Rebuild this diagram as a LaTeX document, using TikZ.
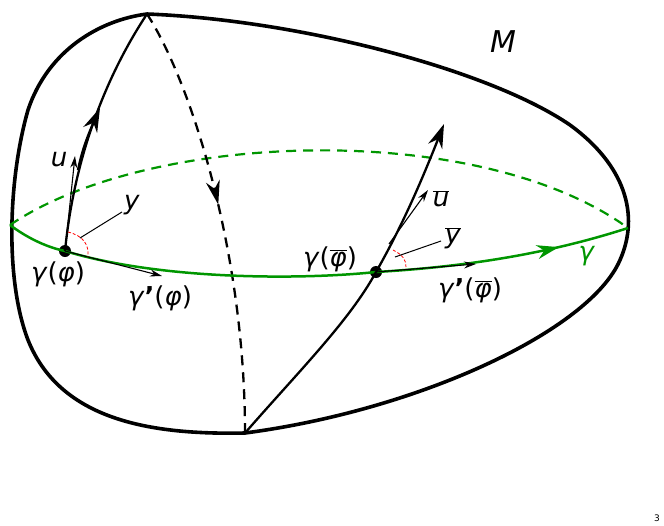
\documentclass[tikz,border=0pt]{standalone}
\usepackage{fontspec}
\setmainfont{DejaVu Sans}
\usetikzlibrary{arrows.meta,decorations.markings}
\definecolor{gr}{RGB}{0,150,0}
\newcommand{\gm}{\textit{γ}}
\newcommand{\ph}{\textit{φ}}
\newcommand{\obar}[1]{$\overline{\hbox{#1}}$}
\begin{document}
\begin{tikzpicture}[x=1pt,y=-1pt,
  lab/.style={font=\fontsize{26}{30}\selectfont, inner sep=1pt},
  big/.style={-{Stealth[length=24pt,width=15pt]}},
  thinv/.style={-{Stealth[length=12pt,width=7pt]}, line width=1.1pt},
  midarrow/.style={postaction={decorate},decoration={markings,mark=at position #1 with {\arrow{Stealth[length=24pt,width=14pt]}}}},
  garrow/.style={postaction={decorate},decoration={markings,mark=at position #1 with {\arrow{Stealth[length=22pt,width=14pt]}}}}]
\useasboundingbox (0,0) rectangle (664,525);
% outline
\draw[line width=3.6pt,line join=round] (147,14) .. controls (300,20) and (490,70) .. (570,125) .. controls (625,165) and (640,215) .. (620,260) .. controls (590,330) and (420,410) .. (245,433) .. controls (150,435) and (60,420) .. (28,340) .. controls (5,280) and (8,180) .. (28,110) .. controls (48,50) and (100,20) .. (147,14) -- cycle;
\coordinate (T) at (147,14);
\coordinate (B) at (245,433);
\coordinate (L) at (10,225);
\coordinate (R) at (628,228);
\node[circle,fill,inner sep=0pt,minimum size=12pt] (P) at (65,251) {};
\node[circle,fill,inner sep=0pt,minimum size=12pt] (Q) at (376,272) {};
% green back dashed
\draw[gr,line width=2.2pt,dash pattern=on 10pt off 7pt] (L) .. controls (150,130) and (480,120) .. (R);
% meridian back dashed
\draw[line width=2.3pt,dash pattern=on 10pt off 7pt,midarrow=0.47] (T) .. controls (190,80) and (245,250) .. (B);
% equator
\draw[gr,line width=2.5pt] (L) .. controls (30,240) and (50,248) .. (P.center) .. controls (160,280) and (300,280) .. (Q.center);
\draw[gr,line width=2.5pt,garrow=0.72] (Q.center) .. controls (480,266) and (560,250) .. (R);
% meridian 1
\draw[line width=2.3pt] (T) .. controls (110,70) and (75,150) .. (P.center);
\draw[line width=2.3pt,big] (78,170) .. controls (82,150) and (88,135) .. (100,108);
% meridian 2
\draw[line width=2.3pt] (B) .. controls (300,370) and (350,320) .. (Q.center);
\draw[line width=2.3pt,big] (Q.center) .. controls (400,230) and (420,185) .. (444,124);
% vectors left
\coordinate (Pu) at (75,156);
\coordinate (Pg) at (162,276);
\draw[thinv] (P.center) -- (Pu);
\draw[thinv] (P.center) -- (Pg);
\draw[red,densely dashed,line width=0.8pt] (68,232) .. controls (84,236) and (89,245) .. (88,257);
\draw[line width=1pt] (80,238) -- (122,212);
\node[lab] (u) at (59,160) {\textit{u}};
\node[lab] (y) at (132,205) {\textit{y}};
\node[lab] (gp) at (58,274) {\gm(\ph)};
\node[lab] (gpp) at (160,298) {\gm\textbf{'}(\ph)};
% vectors right
\draw[thinv] (389,244) -- (428,190);
\draw[thinv] (Q.center) -- (476,264);
\draw[red,densely dashed,line width=0.8pt] (393,250) .. controls (403,255) and (406,260) .. (406,267);
\draw[line width=1pt] (395,257) -- (441,241);
\node[lab] (ub) at (441,199) {\obar{\textit{u}}};
\node[lab] (yb) at (453,238) {\obar{\textit{y}}};
\node[lab] (gq) at (330,259) {\gm(\obar{\ph})};
\node[lab] (gqq) at (470,290) {\gm\textbf{'}(\obar{\ph})};
\node[lab,font=\fontsize{30}{32}\selectfont] (M) at (503,42) {\textit{M}};
\node[lab,gr] (g) at (587,256) {\gm};
\node[font=\fontsize{9}{10}\selectfont] (n) at (657,518) {3};
\end{tikzpicture}
\end{document}
